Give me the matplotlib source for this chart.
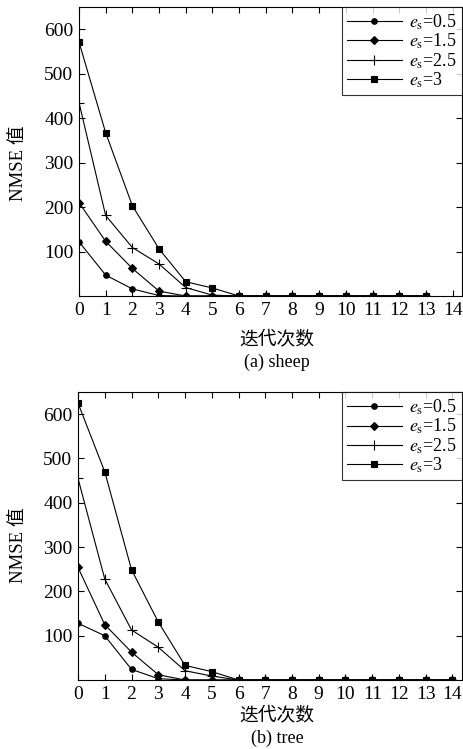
import matplotlib
matplotlib.use("Agg")
import matplotlib.pyplot as plt

plt.rcParams['font.family'] = ['Liberation Serif', 'Noto Sans CJK SC']
plt.rcParams['mathtext.fontset'] = 'stix'

# iteration index
iters_sheep = list(range(14))
iters_tree = list(range(15))

# NMSE values, (a) sheep
sheep_05 = [122, 47, 16, 1, 0, 0, 0, 0, 0, 0, 0, 0, 0, 0]
sheep_15 = [210, 123, 62, 11, 0, 0, 0, 0, 0, 0, 0, 0, 0, 0]
sheep_25 = [435, 181, 109, 72, 19, 2, 0, 0, 0, 0, 0, 0, 0, 0]
sheep_3 = [571, 367, 203, 106, 32, 18, 0, 0, 0, 0, 0, 0, 0, 0]

# NMSE values, (b) tree
tree_05 = [128, 100, 24, 3, 0, 0, 0, 0, 0, 0, 0, 0, 0, 0, 0]
tree_15 = [254, 125, 63, 12, 0, 0, 0, 0, 0, 0, 0, 0, 0, 0, 0]
tree_25 = [455, 228, 113, 74, 21, 9, 0, 0, 0, 0, 0, 0, 0, 0, 0]
tree_3 = [625, 470, 249, 131, 33, 19, 0, 0, 0, 0, 0, 0, 0, 0, 0]

labels = [r'$e_\mathrm{s}$=0.5', r'$e_\mathrm{s}$=1.5',
          r'$e_\mathrm{s}$=2.5', r'$e_\mathrm{s}$=3']
markers = [('o', 4), ('D', 4), ('+', 6.5), ('s', 4.5)]

fig = plt.figure(figsize=(4.63, 7.49), dpi=100)
ax_a = fig.add_axes([0.1706, 0.6048, 0.827, 0.386])
ax_b = fig.add_axes([0.1685, 0.0921, 0.829, 0.3845])


def draw_panel(ax, x, series):
    for ys, (m, ms), lab in zip(series, markers, labels):
        ax.plot(x, ys, color='black', lw=0.8, marker=m, markersize=ms,
                markeredgewidth=0.8, label=lab)
    ax.set_xlim(0, 14.35)
    ax.set_ylim(0, 650)
    ax.set_xticks(range(15))
    ax.set_yticks([100, 200, 300, 400, 500, 600])
    ax.tick_params(direction='in', top=True, right=True, labelsize=14,
                   length=4, width=0.8, pad=4)
    for s in ax.spines.values():
        s.set_linewidth(0.8)
    leg = ax.legend(loc='upper right', fontsize=13, frameon=True,
                    fancybox=False, edgecolor='black', borderaxespad=0,
                    handlelength=3.0, labelspacing=0.0, borderpad=0.3,
                    handletextpad=0.4)
    leg.get_frame().set_linewidth(0.8)


draw_panel(ax_a, iters_sheep, [sheep_05, sheep_15, sheep_25, sheep_3])
draw_panel(ax_b, iters_tree, [tree_05, tree_15, tree_25, tree_3])

# axis titles and captions
fig.text(18 / 463, 1 - 163 / 749, 'NMSE 值', rotation=90, ha='center',
         va='center', fontsize=13.5)
fig.text(18 / 463, 1 - 545 / 749, 'NMSE 值', rotation=90, ha='center',
         va='center', fontsize=13.5)
fig.text(277 / 463, 1 - 340 / 749, '迭代次数', ha='center', va='center',
         fontsize=13.5)
fig.text(277 / 463, 1 - 362 / 749, '(a) sheep', ha='center', va='center',
         fontsize=13)
fig.text(277 / 463, 1 - 716 / 749, '迭代次数', ha='center', va='center',
         fontsize=13.5)
fig.text(277 / 463, 1 - 738 / 749, '(b) tree', ha='center', va='center',
         fontsize=13)

fig.savefig('out.png', dpi=100)
